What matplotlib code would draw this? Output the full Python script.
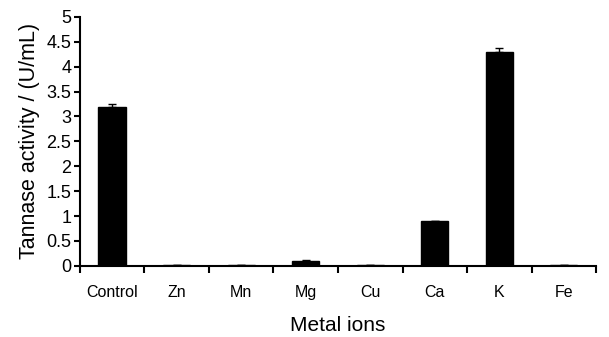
import numpy as np
import matplotlib.pyplot as plt

# Tannase activity by metal ion
metals = ['Control', 'Zn', 'Mn', 'Mg', 'Cu', 'Ca', 'K', 'Fe']
activity = [3.2, 0.01, 0.01, 0.1, 0.01, 0.9, 4.3, 0.01]
errors = [0.05, 0.0, 0.0, 0.01, 0.0, 0.01, 0.08, 0.0]

plt.rcParams['font.family'] = ['Liberation Sans', 'DejaVu Sans']

fig = plt.figure(figsize=(6.09, 3.37), dpi=100)
ax = fig.add_axes([0.131, 0.211, 0.848, 0.739])

x = np.arange(len(metals))
ax.bar(x, activity, width=0.42, color='black', edgecolor='black')
ax.errorbar(x, activity, yerr=[np.zeros(len(errors)), errors], fmt='none',
            ecolor='black', elinewidth=1, capsize=3, capthick=1)

ax.set_xlim(-0.5, len(metals) - 0.5)
ax.set_ylim(0, 5)
ax.set_yticks(np.arange(0, 5.01, 0.5))
ax.set_yticklabels(['0', '0.5', '1', '1.5', '2', '2.5', '3', '3.5', '4', '4.5', '5'])

# ticks at category boundaries, labels at centres
ax.set_xticks(np.arange(-0.5, len(metals), 1.0))
ax.set_xticklabels([])
ax.set_xticks(x, minor=True)
ax.set_xticklabels(metals, minor=True)
ax.tick_params(axis='x', which='minor', length=0, pad=14, labelsize=11.5)
ax.tick_params(axis='x', which='major', direction='out', length=5, width=1.5)
ax.tick_params(axis='y', direction='out', length=4, width=1.5, labelsize=13, pad=2)

for s in ['top', 'right']:
    ax.spines[s].set_visible(False)
ax.spines['left'].set_linewidth(1.5)
ax.spines['bottom'].set_linewidth(1.5)

ax.set_xlabel('Metal ions', fontsize=15, labelpad=11)
ax.set_ylabel('Tannase activity / (U/mL)', fontsize=15.5, labelpad=5)

plt.savefig('out.png', dpi=100)
